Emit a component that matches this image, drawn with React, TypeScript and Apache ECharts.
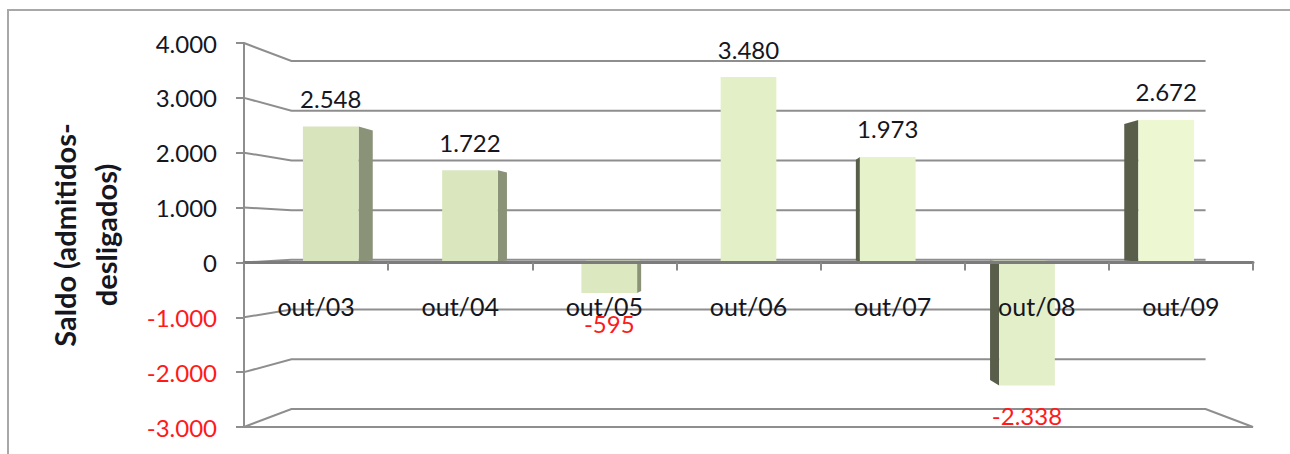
import React, { useEffect, useRef } from "react";
import * as echarts from "echarts";

// ---- data ----
const categories: string[] = ["out/03", "out/04", "out/05", "out/06", "out/07", "out/08", "out/09"];
const saldo: number[] = [2548, 1722, -595, 3480, 1973, -2338, 2672];
const yTicks: number[] = [-3000, -2000, -1000, 0, 1000, 2000, 3000, 4000];
const axisTitle = "Saldo (admitidos-\ndesligados)";

// ---- style ----
const barFront: string[] = ["#d8e4bc", "#dae6be", "#dce8c0", "#e3efc7", "#e6f2ca", "#e3efc9", "#edf8d3"];
const sideRight = "#8a9278";
const sideLeft = "#595e4b";
const gridColor = "#8e8e8e";
const textDark = "#16161e";
const textRed = "#ff1a1a";
const FONT = "Lato, 'Open Sans', sans-serif";
const S_FRONT = 0.966;
const S_BACK = 0.931;
const S_WALL = 0.906;
const W = 1290;
const H = 454;
const GRID = { left: 244, right: 37, top: 43, bottom: 27 };

const fmt = (v: number): string => {
  const s = Math.abs(Math.round(v)).toString().replace(/\B(?=(\d{3})+(?!\d))/g, ".");
  return (v < 0 ? "-" : "") + s;
};

const proj = (p: number[], vp: number[], s: number): number[] => [
  vp[0] + (p[0] - vp[0]) * s,
  vp[1] + (p[1] - vp[1]) * s,
];

export default function App() {
  const ref = useRef<HTMLDivElement>(null);
  useEffect(() => {
    if (!ref.current) return;
    const chart = echarts.init(ref.current, null, { renderer: "svg" });
    const yMin = yTicks[0];
    const yMax = yTicks[yTicks.length - 1];
    const gridH = H - GRID.top - GRID.bottom;
    // lift the category axis from the grid bottom up to the value 0
    const zeroOffset = -gridH * (0 - yMin) / (yMax - yMin);

    const option: any = {
      animation: false,
      backgroundColor: "#ffffff",
      graphic: [
        {
          type: "rect",
          shape: { x: 8, y: 10, width: 1320, height: 520 },
          style: { fill: "none", stroke: "#a8a8a8", lineWidth: 2 },
          z: 0,
        },
      ],
      grid: {
        ...GRID,
        containLabel: false,
        outerBoundsMode: "none",
      },
      xAxis: {
        type: "category",
        data: categories,
        position: "bottom",
        offset: zeroOffset,
        axisLine: { show: true, onZero: false, lineStyle: { color: "#7c7c7c", width: 3 } },
        axisTick: { show: true, length: 8, interval: 0, lineStyle: { color: "#8a8a8a", width: 2 } },
        axisLabel: { margin: 31, fontFamily: FONT, fontSize: 25, color: textDark, interval: 0 },
        splitLine: { show: false },
        z: 5,
      },
      yAxis: {
        type: "value",
        min: yMin,
        max: yMax,
        interval: 1000,
        name: axisTitle,
        nameLocation: "middle",
        nameRotate: 90,
        nameGap: 118,
        nameTextStyle: {
          fontFamily: FONT,
          fontWeight: "bold",
          fontSize: 29,
          lineHeight: 41,
          color: textDark,
          align: "center",
        },
        axisLine: { show: true, lineStyle: { color: gridColor, width: 2 } },
        axisTick: { show: true, length: 8, lineStyle: { color: gridColor, width: 2 } },
        axisLabel: {
          margin: 27,
          fontFamily: FONT,
          fontSize: 24,
          formatter: (v: number) => fmt(v),
          color: (v: any) => (Number(v) < 0 ? textRed : textDark),
        },
        splitLine: { show: false },
      },
      series: [
        {
          type: "custom",
          name: "walls",
          coordinateSystem: "cartesian2d",
          data: yTicks.map((v) => [0, v]),
          z: 1,
          silent: true,
          clip: false,
          renderItem: (params: any, api: any) => {
            const cs = params.coordSys;
            const vp = [cs.x + cs.width / 2, cs.y + cs.height / 2];
            const v = api.value(1);
            const y = api.coord([0, v])[1];
            const L = cs.x;
            const R = cs.x + cs.width;
            const bl = proj([L, y], vp, S_WALL);
            const br = proj([R, y], vp, S_WALL);
            const isFloor = v === yMin;
            const points = isFloor ? [[L, y], bl, br, [R, y], [L, y]] : [[L, y], bl, br];
            return {
              type: "polyline",
              shape: { points },
              style: { stroke: gridColor, lineWidth: 2, fill: "none" },
            };
          },
        },
        {
          type: "custom",
          name: "Saldo",
          coordinateSystem: "cartesian2d",
          data: saldo.map((v, i) => [i, v]),
          z: 3,
          clip: false,
          renderItem: (params: any, api: any) => {
            const cs = params.coordSys;
            const vp = [cs.x + cs.width / 2, cs.y + cs.height / 2];
            const i = api.value(0);
            const v = api.value(1);
            const c = api.coord([i, v]);
            const z0 = api.coord([i, 0]);
            const w = api.size([1, 0])[0] * 0.4;
            const x0 = c[0] - w / 2;
            const x1 = c[0] + w / 2;
            const yT = Math.min(c[1], z0[1]);
            const yB = Math.max(c[1], z0[1]);
            const F = (x: number, y: number) => proj([x, y], vp, S_FRONT);
            const B = (x: number, y: number) => proj([x, y], vp, S_BACK);
            const children: any[] = [];
            const face = (pts: number[][], fill: string) =>
              children.push({ type: "polygon", shape: { points: pts }, style: { fill, stroke: "none" } });
            if (x1 < vp[0]) face([F(x1, yT), B(x1, yT), B(x1, yB), F(x1, yB)], sideRight);
            if (x0 > vp[0]) face([F(x0, yT), B(x0, yT), B(x0, yB), F(x0, yB)], sideLeft);
            if (yT > vp[1]) face([F(x0, yT), F(x1, yT), B(x1, yT), B(x0, yT)], "#c8d4ac");
            if (yB < vp[1]) face([F(x0, yB), F(x1, yB), B(x1, yB), B(x0, yB)], "#aab28f");
            face([F(x0, yT), F(x1, yT), F(x1, yB), F(x0, yB)], barFront[i % barFront.length]);
            const cx = F(c[0], c[1])[0];
            const top = F(c[0], c[1])[1];
            children.push({
              type: "text",
              x: cx,
              y: v >= 0 ? top - 28 : top + 30,
              style: {
                text: fmt(v),
                fontFamily: FONT,
                fontSize: 24,
                fill: v >= 0 ? textDark : textRed,
                align: "center",
                verticalAlign: "middle",
              },
            });
            return { type: "group", children };
          },
        },
      ],
    };
    chart.setOption(option);
    return () => chart.dispose();
  }, []);
  return (
    <div
      ref={ref}
      style={{ position: "fixed", left: 0, top: 0, width: W, height: H, background: "#fff" }}
    />
  );
}
